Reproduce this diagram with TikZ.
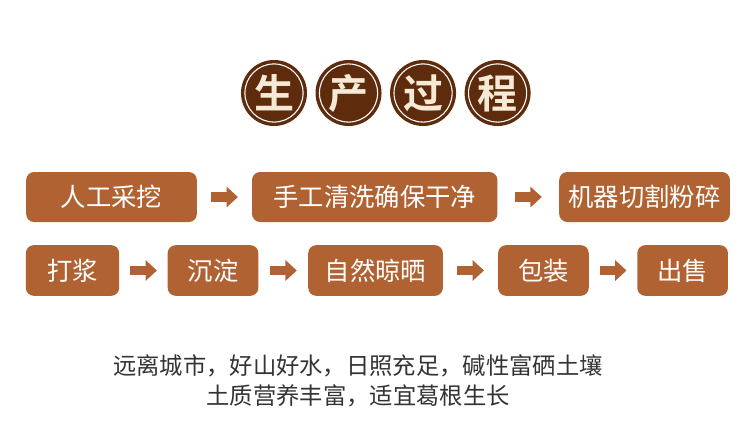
\documentclass[tikz,border=0pt]{standalone}
\usepackage{fontspec}
\usetikzlibrary{positioning,calc,arrows.meta}
\newfontfamily\cjk{Noto Sans CJK SC}
\newfontfamily\cjkbold{Noto Sans CJK SC Bold}
\definecolor{rootBrown}{RGB}{176,98,50}
\definecolor{darkBrown}{RGB}{94,43,12}
\definecolor{cream}{RGB}{246,234,214}
\definecolor{bodyGray}{RGB}{51,51,51}

\begin{document}
\begin{tikzpicture}[
    x=0.75pt, y=-0.75pt,
    badge/.style={circle, fill=darkBrown, minimum size=49.5pt, inner sep=0pt, text=cream, font=\cjkbold\fontsize{30}{30}\selectfont,
        path picture={\draw[white, line width=0.8pt] (path picture bounding box.center) circle (21.8pt);}},
    stepbox/.style={rounded corners=6pt, fill=rootBrown, text=white, minimum height=37.5pt, inner sep=0pt, font=\cjk\fontsize{19}{19}\selectfont},
    flow/.style={rootBrown, line width=7pt, -{Triangle[length=8.5pt, width=15pt]}},
]
\useasboundingbox (0,0) rectangle (750,433);

% Title badges
\node[badge] (t1) at (274,93) {生};
\node[badge, right=6pt of t1] (t2) {产};
\node[badge, right=6pt of t2] (t3) {过};
\node[badge, right=6pt of t3] (t4) {程};

% First row
\node[stepbox, minimum width=128pt] (pick) at (111.5,197) {人工采挖};
\node[stepbox, minimum width=184pt, right=41pt of pick] (wash) {手工清洗确保干净};
\node[stepbox, minimum width=128pt, right=46pt of wash] (mill) {机器切割粉碎};

% Second row
\node[stepbox, minimum width=70pt, minimum height=38pt] (pulp) at (72.5,270.5) {打浆};
\node[stepbox, minimum width=68pt, minimum height=38pt, right=36pt of pulp] (settle) {沉淀};
\node[stepbox, minimum width=101pt, minimum height=38pt, right=37pt of settle] (dry) {自然晾晒};
\node[stepbox, minimum width=68pt, minimum height=38pt, right=41pt of dry] (pack) {包装};
\node[stepbox, minimum width=68pt, minimum height=38pt, right=36pt of pack] (sell) {出售};

% Arrows
\foreach \a/\b in {pick/wash, wash/mill, pulp/settle, settle/dry, dry/pack, pack/sell}
  \draw[flow] ($(\a.east)!0.5!(\b.west)$) +(-13.5,0) -- +(13.5,0);

% Description
\node[text=bodyGray, font=\cjk\fontsize{17.5}{17.5}\selectfont] (line1) at (358,366) {远离城市，好山好水，日照充足，碱性富硒土壤};
\node[text=bodyGray, font=\cjk\fontsize{17.5}{17.5}\selectfont, below=-1.5pt of line1] (line2) {土质营养丰富，适宜葛根生长};
\end{tikzpicture}
\end{document}
